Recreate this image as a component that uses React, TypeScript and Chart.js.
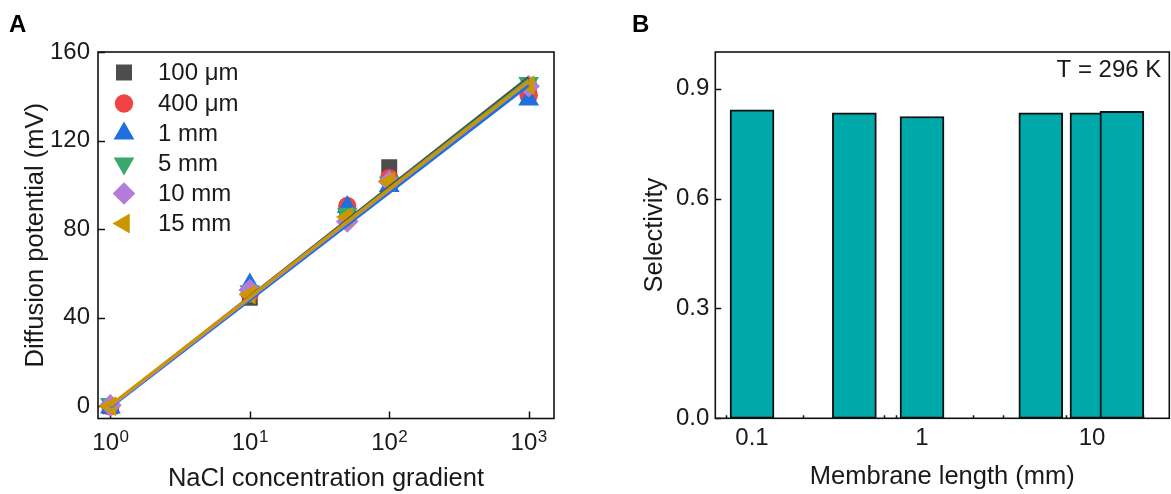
import React, { useEffect, useRef } from 'react';
import { Chart, registerables } from 'chart.js';
import { drawPoint } from 'chart.js/helpers';

Chart.register(...registerables);

const FONT = '"Liberation Sans", Arial, Helvetica, sans-serif';
const TEXT = '#1a1a1a';
const AXIS = '#111111';

// ---------- Panel A data ----------
const gradientA = [1, 10, 50, 100, 1000];
const seriesNamesA = ['100 μm', '400 μm', '1 mm', '5 mm', '10 mm', '15 mm'];
const s100um = [0, 49, 86, 108, 143];
const s400um = [0, 51, 90.5, 103, 140.5];
const s1mm = [-0.5, 55, 90, 99.5, 138.5];
const s5mm = [1, 52, 87, 101, 146];
const s10mm = [0.5, 52.5, 83.5, 101.5, 144.5];
const s15mm = [0, 50.5, 85.5, 101.5, 145];
const seriesA = [s100um, s400um, s1mm, s5mm, s10mm, s15mm];
const fitRangeA = [1, 1000];
const fitStartA = [0, 0, -0.5, 0, 0, 0.5];
const fitEndA = [148.5, 147, 145, 147.5, 146.5, 146.8];
const colorsA = ['#4d4d4d', '#f04343', '#1f6fde', '#38a96a', '#b27dda', '#cc9600'];
const stylesA = ['rect', 'circle', 'triangle', 'triangle', 'rectRot', 'triangle'];
const rotationsA = [0, 0, 0, 180, 0, 270];
const radiiA = [11.3, 9.2, 12, 12, 11.3, 11.5];
const yTicksA = [0, 40, 80, 120, 160];
const xTicksA = [1, 10, 100, 1000];
const xTickBaseA = '10';
const xTickExpA = ['0', '1', '2', '3'];

// ---------- Panel B data ----------
const lengthsB = [0.1, 0.4, 1, 5, 10, 15];
const selectivityB = [0.842, 0.834, 0.824, 0.834, 0.834, 0.838];
const xMajorB = [0.1, 1, 10];
const xMajorLabelsB = ['0.1', '1', '10'];
const xMinorB = [0.07, 0.08, 0.09, 0.2, 0.3, 0.4, 0.5, 0.6, 0.7, 0.8, 0.9, 2, 3, 4, 5, 6, 7, 8, 9, 20];
const yTicksB = [0, 0.3, 0.6, 0.9];

type TickSpec = { v: number; len: number };

function frameAndTicks(xTicks: TickSpec[], yTicks: TickSpec[], extra?: (chart: any) => void) {
  return {
    id: 'frameAndTicks',
    beforeDatasetsDraw(chart: any) {
      const { ctx, chartArea: a, scales } = chart;
      ctx.save();
      ctx.strokeStyle = AXIS;
      ctx.lineWidth = 1.5;
      ctx.beginPath();
      for (const t of xTicks) {
        const px = Math.round(scales.x.getPixelForValue(t.v)) + 0.5;
        ctx.moveTo(px, a.bottom);
        ctx.lineTo(px, a.bottom - t.len);
      }
      for (const t of yTicks) {
        const py = Math.round(scales.y.getPixelForValue(t.v)) + 0.5;
        ctx.moveTo(a.left, py);
        ctx.lineTo(a.left + t.len, py);
      }
      ctx.stroke();
      ctx.restore();
    },
    afterDatasetsDraw(chart: any) {
      const { ctx, chartArea: a } = chart;
      ctx.save();
      ctx.strokeStyle = AXIS;
      ctx.lineWidth = 1.6;
      ctx.strokeRect(a.left, a.top, a.right - a.left, a.bottom - a.top);
      ctx.restore();
    },
    afterDraw(chart: any) {
      if (extra) extra(chart);
    },
  };
}

function configA(): any {
  const datasets: any[] = [];
  seriesA.forEach((vals, i) => {
    datasets.push({
      type: 'scatter',
      label: seriesNamesA[i],
      data: gradientA.map((x, j) => ({ x, y: vals[j] })),
      backgroundColor: colorsA[i],
      borderColor: colorsA[i],
      pointStyle: stylesA[i],
      rotation: rotationsA[i],
      pointRadius: radiiA[i],
      pointBorderWidth: 0,
      showLine: false,
      order: 20 - i,
    });
  });
  seriesA.forEach((_, i) => {
    datasets.push({
      type: 'line',
      label: seriesNamesA[i] + ' fit',
      data: [
        { x: fitRangeA[0], y: fitStartA[i] },
        { x: fitRangeA[1], y: fitEndA[i] },
      ],
      borderColor: colorsA[i],
      borderWidth: 3,
      pointRadius: 0,
      fill: false,
      tension: 0,
      order: 10 - i,
    });
  });

  const extra = (chart: any) => {
    const { ctx, chartArea: a, scales } = chart;
    ctx.save();
    // legend
    const rows = [72.5, 103.5, 133.5, 163.5, 193.5, 223.5];
    seriesNamesA.forEach((name, i) => {
      ctx.fillStyle = colorsA[i];
      ctx.strokeStyle = colorsA[i];
      drawPoint(ctx, { pointStyle: stylesA[i], rotation: rotationsA[i], radius: radiiA[i], borderWidth: 0 } as any, 124, rows[i]);
      ctx.fillStyle = TEXT;
      ctx.font = `24px ${FONT}`;
      ctx.textAlign = 'left';
      ctx.textBaseline = 'middle';
      ctx.fillText(name, 158, rows[i] + 1);
    });
    // x tick labels with superscript exponents
    ctx.fillStyle = TEXT;
    ctx.textAlign = 'left';
    ctx.textBaseline = 'alphabetic';
    xTicksA.forEach((v, i) => {
      const px = scales.x.getPixelForValue(v);
      ctx.font = `24px ${FONT}`;
      const w1 = ctx.measureText(xTickBaseA).width;
      ctx.font = `17px ${FONT}`;
      const w2 = ctx.measureText(xTickExpA[i]).width;
      const x0 = px - (w1 + w2) / 2;
      const base = a.bottom + 31;
      ctx.font = `24px ${FONT}`;
      ctx.fillText(xTickBaseA, x0, base);
      ctx.font = `17px ${FONT}`;
      ctx.fillText(xTickExpA[i], x0 + w1 + 0.5, base - 8);
    });
    // panel letter
    ctx.font = `bold 24px ${FONT}`;
    ctx.textBaseline = 'alphabetic';
    ctx.fillStyle = '#000';
    ctx.fillText('A', 9, 32);
    ctx.restore();
  };

  return {
    type: 'scatter',
    data: { datasets },
    options: {
      animation: false,
      responsive: false,
      maintainAspectRatio: false,
      layout: { padding: { left: 0, top: 52, right: 31, bottom: 0 } },
      plugins: { legend: { display: false }, tooltip: { enabled: false }, title: { display: false } },
      scales: {
        x: {
          type: 'logarithmic',
          min: 0.815,
          max: 1520,
          afterBuildTicks: (s: any) => {
            s.ticks = xTicksA.map((v) => ({ value: v, major: true }));
          },
          afterFit: (s: any) => {
            s.height = 75.5;
          },
          ticks: { display: false, autoSkip: false },
          grid: { display: false, drawTicks: false },
          border: { display: false },
          title: {
            display: true,
            text: 'NaCl concentration gradient',
            color: TEXT,
            font: { family: FONT, size: 25.5 },
            padding: { top: 0, bottom: 0 },
          },
        },
        y: {
          type: 'linear',
          min: -5.5,
          max: 160,
          afterBuildTicks: (s: any) => {
            s.ticks = yTicksA.map((v) => ({ value: v }));
          },
          afterFit: (s: any) => {
            s.width = 98;
          },
          ticks: {
            padding: 8,
            color: TEXT,
            font: { family: FONT, size: 24 },
            callback: (v: any) => String(v),
          },
          grid: { display: false, drawTicks: false },
          border: { display: false },
          title: {
            display: true,
            text: 'Diffusion potential (mV)',
            color: TEXT,
            font: { family: FONT, size: 25.5 },
            padding: { top: 21, bottom: 0 },
          },
        },
      },
    },
    plugins: [
      frameAndTicks(
        xTicksA.map((v) => ({ v, len: 7 })),
        yTicksA.map((v) => ({ v, len: 7 })),
        extra
      ),
    ],
  };
}

function configB(): any {
  const extra = (chart: any) => {
    const { ctx, chartArea: a } = chart;
    ctx.save();
    ctx.fillStyle = TEXT;
    ctx.font = `24px ${FONT}`;
    ctx.textAlign = 'right';
    ctx.textBaseline = 'alphabetic';
    ctx.fillText('T = 296 K', a.right - 8, a.top + 24.5);
    ctx.font = `bold 24px ${FONT}`;
    ctx.textAlign = 'left';
    ctx.fillStyle = '#000';
    ctx.fillText('B', 47, 32);
    ctx.restore();
  };
  const allXTicks = [...xMajorB, ...xMinorB].sort((p, q) => p - q);
  return {
    type: 'bar',
    data: {
      datasets: [
        {
          label: 'Selectivity',
          data: lengthsB.map((x, i) => ({ x, y: selectivityB[i] })),
          backgroundColor: '#00a9a9',
          borderColor: '#111111',
          borderWidth: 2,
          borderSkipped: false,
          barThickness: 44,
        },
      ],
    },
    options: {
      animation: false,
      responsive: false,
      maintainAspectRatio: false,
      layout: { padding: { left: 0, top: 52, right: 1.7, bottom: 0 } },
      plugins: { legend: { display: false }, tooltip: { enabled: false }, title: { display: false } },
      scales: {
        x: {
          type: 'logarithmic',
          min: 0.0608,
          max: 28.5,
          offset: false,
          afterBuildTicks: (s: any) => {
            s.ticks = allXTicks.map((v) => ({ value: v, major: xMajorB.includes(v) }));
          },
          afterFit: (s: any) => {
            s.height = 75.7;
          },
          ticks: {
            autoSkip: false,
            maxRotation: 0,
            padding: 6,
            color: TEXT,
            font: { family: FONT, size: 24 },
            callback: (v: any) => {
              const i = xMajorB.indexOf(Number(v));
              return i >= 0 ? xMajorLabelsB[i] : '';
            },
          },
          grid: { display: false, drawTicks: false, offset: false },
          border: { display: false },
          title: {
            display: true,
            text: 'Membrane length (mm)',
            color: TEXT,
            font: { family: FONT, size: 25.5 },
            padding: { top: 0, bottom: 2 },
          },
        },
        y: {
          type: 'linear',
          min: 0,
          max: 1.0,
          afterBuildTicks: (s: any) => {
            s.ticks = yTicksB.map((v) => ({ value: v }));
          },
          afterFit: (s: any) => {
            s.width = 130.3;
          },
          ticks: {
            padding: 6,
            color: TEXT,
            font: { family: FONT, size: 24 },
            callback: (v: any) => Number(v).toFixed(1),
          },
          grid: { display: false, drawTicks: false },
          border: { display: false },
          title: {
            display: true,
            text: 'Selectivity',
            color: TEXT,
            font: { family: FONT, size: 25.5 },
            padding: { top: 55, bottom: 0 },
          },
        },
      },
    },
    plugins: [
      frameAndTicks(
        [...xMajorB.map((v) => ({ v, len: 6 })), ...xMinorB.map((v) => ({ v, len: 3 }))],
        yTicksB.map((v) => ({ v, len: 6 })),
        extra
      ),
    ],
  };
}

function ChartCanvas({ makeConfig, left, width }: { makeConfig: () => any; left: number; width: number }) {
  const ref = useRef<HTMLCanvasElement>(null);
  useEffect(() => {
    const chart = new Chart(ref.current as HTMLCanvasElement, makeConfig());
    return () => chart.destroy();
  }, [makeConfig]);
  return (
    <canvas
      ref={ref}
      width={width}
      height={494}
      style={{ position: 'absolute', left, top: 0, width, height: 494 }}
    />
  );
}

export default function App() {
  return (
    <div style={{ position: 'fixed', left: 0, top: 0, width: 1171, height: 494, background: '#ffffff', overflow: 'hidden' }}>
      <ChartCanvas makeConfig={configA} left={0} width={585} />
      <ChartCanvas makeConfig={configB} left={585} width={586} />
    </div>
  );
}
